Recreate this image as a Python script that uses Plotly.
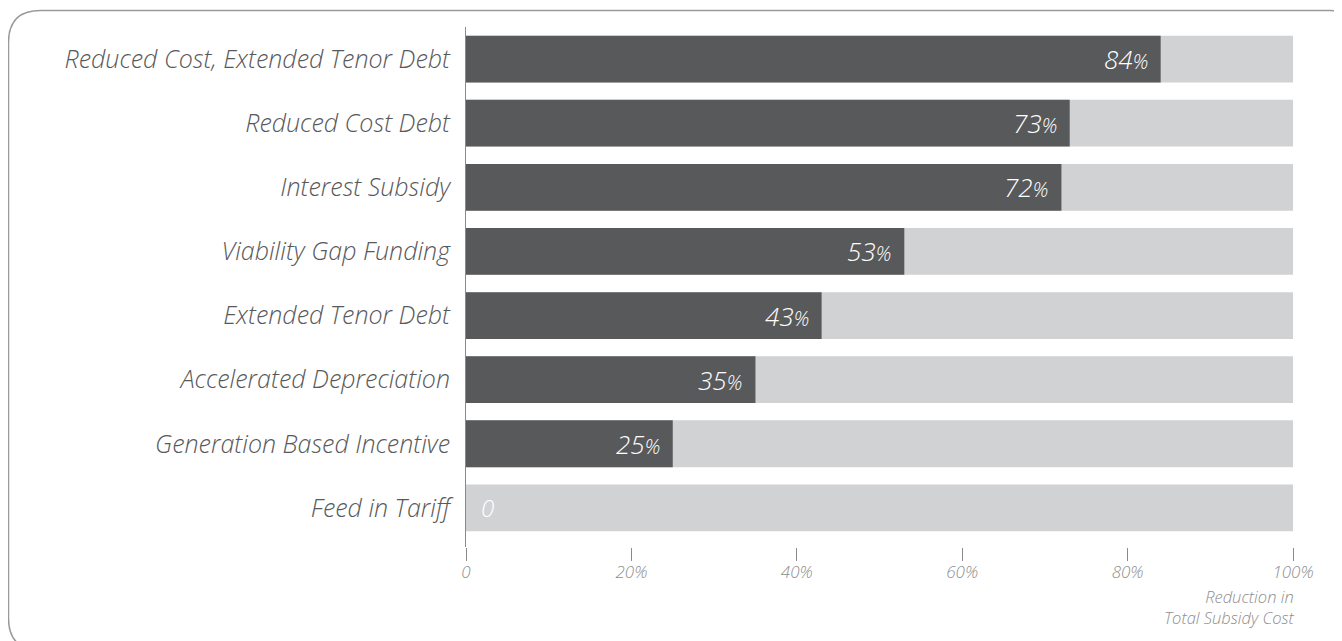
import plotly.graph_objects as go

categories = [
    "Reduced Cost, Extended Tenor Debt",
    "Reduced Cost Debt",
    "Interest Subsidy",
    "Viability Gap Funding",
    "Extended Tenor Debt",
    "Accelerated Depreciation",
    "Generation Based Incentive",
    "Feed in Tariff",
]
values = [84, 73, 72, 53, 43, 35, 25, 0]
full_scale = [100] * len(categories)
tick_vals = [0, 20, 40, 60, 80, 100]
tick_text = ["0", "20%", "40%", "60%", "80%", "100%"]
axis_title = "Reduction in<br>Total Subsidy Cost"

# page body has an 8px margin; figure coordinates are offset by it
OFF = 8
W, H = 1342 - OFF, 641 - OFF
ML, MR, MT, MB = 466 - OFF, 49, 27 - OFF, 94
PW = W - ML - MR
PH = H - MT - MB

DARK = "#58595b"
LIGHT = "#d1d2d4"
FONT = "Open Sans"
WT = 300

fig = go.Figure()
fig.add_trace(go.Bar(y=categories, x=full_scale, orientation="h",
                     marker=dict(color=LIGHT, line=dict(width=0)),
                     width=0.73, hoverinfo="skip", showlegend=False))
fig.add_trace(go.Bar(y=categories, x=values, orientation="h",
                     marker=dict(color=DARK, line=dict(width=0)),
                     width=0.73, showlegend=False))

annotations = []
for cat, v in zip(categories, values):
    if v > 0:
        txt = f"{v}<span style='font-size:20px'>%</span>"
        annotations.append(dict(x=v, y=cat, xref="x", yref="y", text=txt,
                                showarrow=False, xanchor="right", xshift=-11,
                                font=dict(family=FONT, size=26, color="white",
                                          style="italic", weight=WT)))
    else:
        annotations.append(dict(x=v, y=cat, xref="x", yref="y", text=str(v),
                                showarrow=False, xanchor="left", xshift=13,
                                font=dict(family=FONT, size=24, color="white",
                                          style="italic", weight=WT)))

annotations.append(dict(x=100, y=0, xref="x", yref="paper", yshift=-36, xshift=3,
                        text=axis_title, showarrow=False, xanchor="right",
                        yanchor="top", align="right",
                        font=dict(family=FONT, size=16.5, color="#8e8e8e",
                                  style="italic", weight=WT)))


def px2paper(px, py):
    return (px - OFF - ML) / PW, 1 - (py - OFF - MT) / PH


def rounded_rect(x0, y0, x1, y1, r):
    def P(x, y):
        fx, fy = px2paper(x, y)
        return f"{fx:.5f},{fy:.5f}"
    return (f"M {P(x0 + r, y0)} L {P(x1 - r, y0)} Q {P(x1, y0)} {P(x1, y0 + r)} "
            f"L {P(x1, y1 - r)} Q {P(x1, y1)} {P(x1 - r, y1)} "
            f"L {P(x0 + r, y1)} Q {P(x0, y1)} {P(x0, y1 - r)} "
            f"L {P(x0, y0 + r)} Q {P(x0, y0)} {P(x0 + r, y0)} Z")


shapes = [dict(type="path", xref="paper", yref="paper",
               path=rounded_rect(8.5, 10.5, 1362, 650, 32),
               line=dict(color="#9a9a9a", width=1.5), layer="below")]

fig.update_layout(
    width=W, height=H,
    margin=dict(l=ML, r=MR, t=MT, b=MB),
    paper_bgcolor="white", plot_bgcolor="white",
    barmode="overlay",
    annotations=annotations,
    shapes=shapes,
    xaxis=dict(range=[0, 100], tickvals=tick_vals, ticktext=tick_text,
               showgrid=False, zeroline=False, showline=False,
               ticks="outside", ticklen=13, tickcolor="#8a8a8a", tickwidth=1,
               ticklabelstandoff=-3,
               tickfont=dict(family=FONT, size=17, color="#8e8e8e",
                             style="italic", weight=WT),
               fixedrange=True),
    yaxis=dict(categoryorder="array", categoryarray=categories,
               range=[len(categories) - 1 + 0.61, -0.5],
               showgrid=False, zeroline=False, showline=True,
               linecolor="#8a8a8a", linewidth=1, ticks="",
               ticklabelstandoff=10,
               tickfont=dict(family=FONT, size=25, color="#58595b",
                             style="italic", weight=WT),
               fixedrange=True),
)

fig.write_html("out.html")
